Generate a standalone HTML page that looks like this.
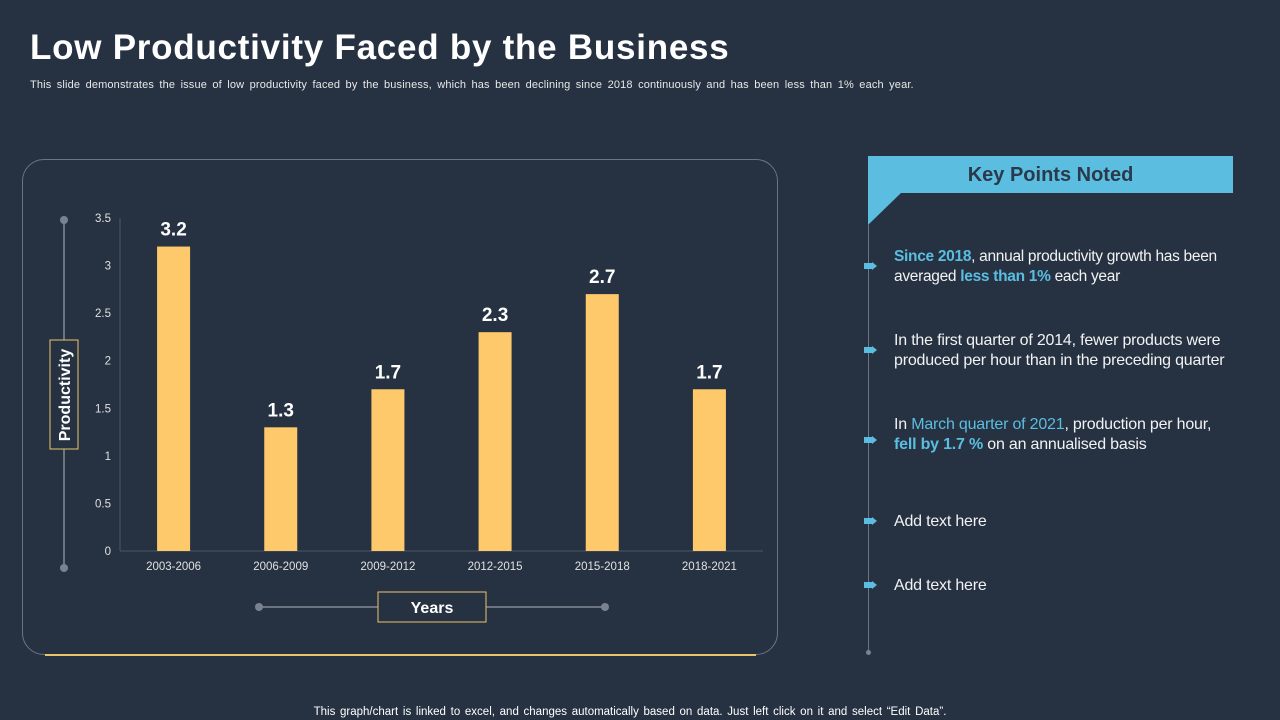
<!DOCTYPE html>
<html><head><meta charset="utf-8"><style>
body{margin:0;width:1280px;height:720px;background:#263242;font-family:"Liberation Sans",sans-serif;overflow:hidden;position:relative;color:#fff}
.abs{position:absolute}
.kp{position:absolute;left:894px;font-size:16px;line-height:19.5px;color:#f2f2f2;letter-spacing:-0.2px}
.b{color:#5bbde0;font-weight:bold}.c{color:#5bbde0}
.mk{position:absolute;left:864px;width:8px;height:6px;background:#5bbde0}
.mk:after{content:"";position:absolute;left:8px;top:-1px;border-left:5px solid #5bbde0;border-top:4px solid transparent;border-bottom:4px solid transparent}
</style></head><body>
<div class="abs" style="left:30px;top:28px;font-size:35px;font-weight:bold;letter-spacing:0.75px">Low Productivity Faced by the Business</div>
<div class="abs" style="left:30px;top:79px;font-size:11px;color:#e8e8e8;letter-spacing:0.15px;word-spacing:2.2px">This slide demonstrates the issue of low productivity faced by the business, which has been declining since 2018 continuously and has been less than 1%  each year.</div>
<div class="abs" style="left:22px;top:159px;width:756px;height:496px;border:1px solid #6c7480;border-radius:22px;box-sizing:border-box"></div>
<div class="abs" style="left:45px;top:654px;width:711px;height:2px;background:#e9c46a"></div>
<svg class="abs" style="left:0;top:0" width="800" height="720" id="chart">
<line x1="64" y1="220" x2="64" y2="568" stroke="#6c7480" stroke-width="2"/>
<circle cx="64" cy="220" r="4" fill="#7a8290"/><circle cx="64" cy="568" r="4" fill="#7a8290"/>
<line x1="259" y1="607" x2="605" y2="607" stroke="#6c7480" stroke-width="2"/>
<circle cx="259" cy="607" r="4" fill="#7a8290"/><circle cx="605" cy="607" r="4" fill="#7a8290"/>
<rect x="50" y="340" width="28" height="109" fill="#263242" stroke="#e9c46a"/>
<text x="70" y="395" transform="rotate(-90 70 395)" text-anchor="middle" font-size="16" font-weight="bold" fill="#fff">Productivity</text>
<rect x="378" y="592" width="108" height="30" fill="#263242" stroke="#e9c46a"/>
<text x="432" y="613" text-anchor="middle" font-size="16" font-weight="bold" fill="#fff">Years</text>
<line x1="120" y1="218" x2="120" y2="551" stroke="#4a5566"/>
<line x1="120" y1="551" x2="763" y2="551" stroke="#4a5566"/>
<g id="g"></g>
</svg>
<div class="abs" style="left:868px;top:156px;width:365px;height:37px;background:#5bbde0;color:#2b3a4a;font-size:20px;font-weight:bold;text-align:center;line-height:38px">Key Points Noted</div>
<svg class="abs" style="left:868px;top:192px" width="40" height="36"><polygon points="0,0 34,0 0,33" fill="#5bbde0"/></svg>
<div class="abs" style="left:868px;top:225px;width:1px;height:428px;background:#6c7480"></div>
<div class="abs" style="left:866px;top:650px;width:5px;height:5px;border-radius:50%;background:#7a8290"></div>
<div class="mk" style="top:263px"></div><div class="kp" style="top:247px;width:360px;font-size:15.5px;letter-spacing:-0.3px;white-space:nowrap"><span class="b">Since 2018</span>, annual productivity growth has been<br>averaged <span class="b">less than 1%</span> each year</div>
<div class="mk" style="top:347px"></div><div class="kp" style="top:331px">In the first quarter of 2014, fewer products were<br>produced per hour than in the preceding quarter</div>
<div class="mk" style="top:437px"></div><div class="kp" style="top:415px">In <span class="c">March quarter of 2021</span>, production per hour,<br><span class="b">fell by 1.7 %</span> on an annualised basis</div>
<div class="mk" style="top:518px"></div><div class="kp" style="top:512px">Add text here</div>
<div class="mk" style="top:582px"></div><div class="kp" style="top:576px">Add text here</div>
<div class="abs" style="left:0;width:1260px;text-align:center;top:706px;font-size:11.5px;color:#fff;word-spacing:1.5px">This graph/chart is linked to excel,  and changes automatically based on data. Just left click on it and select “Edit Data”.</div>
<script>
const categories=["2003-2006","2006-2009","2009-2012","2012-2015","2015-2018","2018-2021"];
const values=[3.2,1.3,1.7,2.3,2.7,1.7];
const yTicks=[0,0.5,1,1.5,2,2.5,3,3.5];
const NS="http://www.w3.org/2000/svg",g=document.getElementById("g");
const y=v=>551-v*(333/3.5);
const x=i=>120+(i+0.5)*(643/categories.length);
function mk(t,a){const e=document.createElementNS(NS,t);for(const k in a)e.setAttribute(k,a[k]);g.appendChild(e);return e;}
yTicks.forEach(t=>{const e=mk("text",{x:111,y:y(t)+4,"text-anchor":"end","font-size":11.5,fill:"#e0e0e0"});e.textContent=t;

});
categories.forEach((c,i)=>{
const r=mk("rect",{x:x(i)-16.5,y:y(values[i]),width:33,height:551-y(values[i]),fill:"#fec96b"});


const l=mk("text",{x:x(i),y:y(values[i])-11,"text-anchor":"middle","font-size":19,"font-weight":"bold",fill:"#fff"});l.textContent=values[i];


const t=mk("text",{x:x(i),y:570,"text-anchor":"middle","font-size":11.5,fill:"#e0e0e0"});t.textContent=c;

});
</script>
</body></html>
